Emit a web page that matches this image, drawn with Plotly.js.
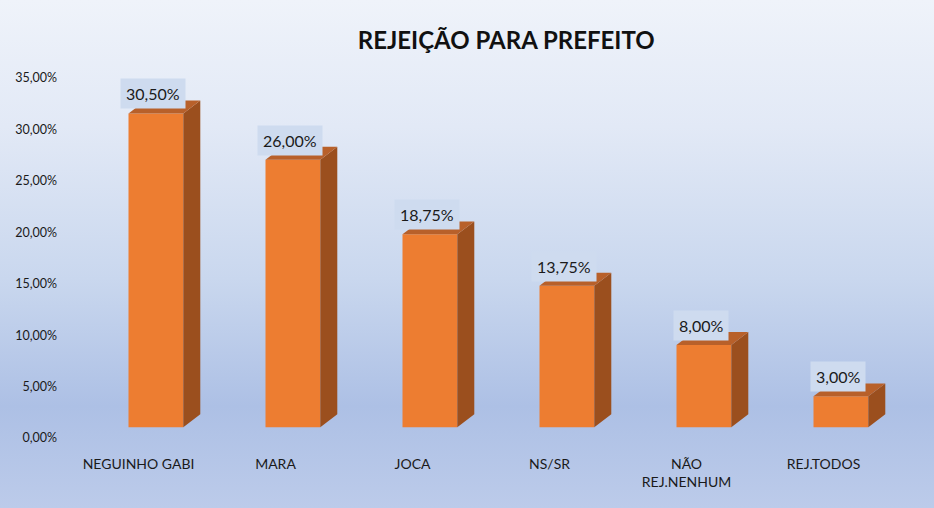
<!DOCTYPE html>
<html>
<head>
<meta charset="utf-8">
<script src="https://cdn.plot.ly/plotly-3.0.1.min.js"></script>
<style>
  html, body { margin: 0; padding: 0; }
  #chart {
    width: 934px;
    height: 508px;
    /* soft white-to-blue wash behind the whole chart */
    background: linear-gradient(to bottom, #eff3fa 0%, #e2e9f6 25%, #c9d7ee 55%, #adc0e5 80%, #bccbea 100%);
  }
</style>
</head>
<body>
<div id="chart"></div>
<script>
// data
const categories = ['NEGUINHO GABI', 'MARA', 'JOCA', 'NS/SR', 'NÃO<br>REJ.NENHUM', 'REJ.TODOS'];
const rejeicao = [30.5, 26.0, 18.75, 13.75, 8.0, 3.0];
const valueLabels = ['30,50%', '26,00%', '18,75%', '13,75%', '8,00%', '3,00%'];
const yTicks = [0, 5, 10, 15, 20, 25, 30, 35];
const yTickLabels = ['0,00%', '5,00%', '10,00%', '15,00%', '20,00%', '25,00%', '30,00%', '35,00%'];

// fake 3D geometry (in axis units)
const LIFT = 1.05;     // front face sits a little above the floor
const OFFSET = -0.073; // front face left edge, relative to the category centre
const WIDTH = 0.40;
const DX = 0.124;      // depth to the right
const DY = 1.26;       // depth upwards

const colors = {
    front: '#ed7d31',
    side: '#9b4f1e',
    top: '#b8602a',
    text: '#1a1a1a'
};

const xs = categories.map((_, i) => i);

// side and top faces as closed polygons, one gap between bars
const sideX = [], sideY = [], topX = [], topY = [];
rejeicao.forEach((v, i) => {
    const xl = i + OFFSET;
    const xr = xl + WIDTH;
    const yt = LIFT + v;
    sideX.push(xr, xr + DX, xr + DX, xr, xr, null);
    sideY.push(LIFT, LIFT + DY, yt + DY, yt, LIFT, null);
    topX.push(xl, xr, xr + DX, xl + DX, xl, null);
    topY.push(yt, yt, yt + DY, yt + DY, yt, null);
});

const traces = [
    {
        type: 'bar',
        x: xs,
        y: rejeicao,
        base: LIFT,
        width: WIDTH,
        offset: OFFSET,
        marker: { color: colors.front, line: { width: 0 } },
        hoverinfo: 'skip'
    },
    {
        type: 'scatter',
        mode: 'lines',
        x: sideX,
        y: sideY,
        fill: 'toself',
        fillcolor: colors.side,
        line: { width: 0, color: colors.side },
        hoverinfo: 'skip'
    },
    {
        type: 'scatter',
        mode: 'lines',
        x: topX,
        y: topY,
        fill: 'toself',
        fillcolor: colors.top,
        line: { width: 0, color: colors.top },
        hoverinfo: 'skip'
    }
];

const annotations = rejeicao.map((v, i) => ({
    x: i + OFFSET + WIDTH / 2 - 0.02,
    y: LIFT + v,
    xref: 'x',
    yref: 'y',
    yanchor: 'bottom',
    yshift: 4,
    text: valueLabels[i],
    showarrow: false,
    font: { family: 'Lato, sans-serif', size: 16, color: colors.text },
    bgcolor: '#cedbef',
    borderpad: 5
}));

const layout = {
    width: 934,
    height: 508,
    paper_bgcolor: 'rgba(0,0,0,0)',
    plot_bgcolor: 'rgba(0,0,0,0)',
    margin: { l: 70, r: 42, t: 78, b: 70 },
    showlegend: false,
    font: { family: 'Lato, sans-serif', color: colors.text },
    title: {
        text: '<b>REJEIÇÃO PARA PREFEITO</b>',
        font: { family: 'Lato, sans-serif', size: 24, color: '#111111' },
        x: 0.542,
        xanchor: 'center',
        y: 0.92,
        yanchor: 'middle'
    },
    xaxis: {
        range: [-0.5, 5.5],
        tickmode: 'array',
        tickvals: xs,
        ticktext: categories,
        showgrid: false,
        zeroline: false,
        showline: false,
        ticks: '',
        ticklabelstandoff: 16,
        tickfont: { size: 14, color: colors.text },
        fixedrange: true
    },
    yaxis: {
        range: [0, 35],
        tickmode: 'array',
        tickvals: yTicks,
        ticktext: yTickLabels,
        showgrid: false,
        zeroline: false,
        showline: false,
        ticks: '',
        ticklabelstandoff: 12,
        tickfont: { size: 12.5, color: colors.text },
        fixedrange: true
    },
    annotations: annotations
};

Plotly.newPlot('chart', traces, layout, { displayModeBar: false, staticPlot: true });
</script>
</body>
</html>
